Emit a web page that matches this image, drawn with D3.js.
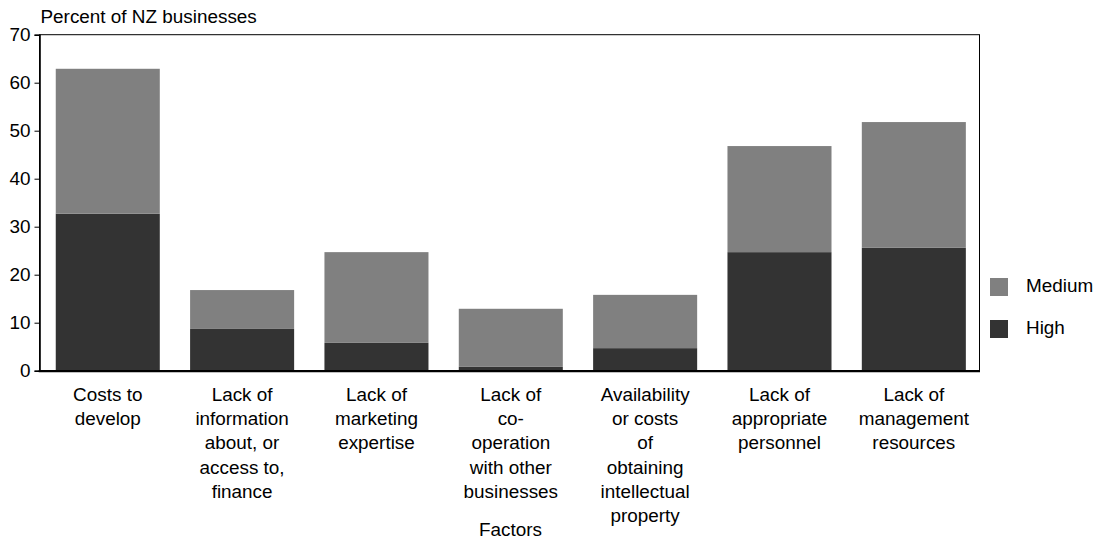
<!DOCTYPE html>
<html>
<head>
<meta charset="utf-8">
<script src="https://cdn.jsdelivr.net/npm/d3@7"></script>
<style>
  html, body { margin: 0; padding: 0; background: #fff; }
  text { font-family: Arial, "Liberation Sans", Helvetica, sans-serif; fill: #000; }
</style>
</head>
<body>
<svg id="chart" width="1097" height="541"></svg>
<script>
const categories = [
  "Costs to|develop",
  "Lack of|information|about, or|access to,|finance",
  "Lack of|marketing|expertise",
  "Lack of|co-|operation|with other|businesses",
  "Availability|or costs|of|obtaining|intellectual|property",
  "Lack of|appropriate|personnel",
  "Lack of|management|resources"
];
const high   = [32.7, 8.7, 5.8, 0.8, 4.7, 24.7, 25.6];
const medium = [30.2, 8.1, 18.9, 12.1, 11.1, 22.1, 26.2];
const yTicks = [0, 10, 20, 30, 40, 50, 60, 70];
const seriesNames = ["Medium", "High"];
const seriesColors = ["#808080", "#333333"];
const yTitle = "Percent of NZ businesses";
const xTitle = "Factors";

const FS = 18.9;
const svg = d3.select("#chart");
const pLeft = 39.5, pRight = 979.5, pTop = 34.7, pBottom = 370.7;

const x = d3.scaleBand().domain(categories).range([40.6, 981]).paddingInner(0.2256).paddingOuter(0.1128);
const y = d3.scaleLinear().domain([0, 70]).range([pBottom, pTop]);

const rows = categories.map((c, i) => ({cat: c, High: high[i], Medium: medium[i]}));
const stack = d3.stack().keys(["High", "Medium"])(rows);
const color = d3.scaleOrdinal().domain(seriesNames).range(seriesColors);

// frame
svg.append("rect").attr("x", pLeft).attr("y", pTop).attr("width", pRight - pLeft).attr("height", pBottom - pTop)
  .attr("fill", "none").attr("stroke", "#000").attr("stroke-width", 1);

svg.append("g").selectAll("g").data(stack).join("g")
  .attr("fill", d => color(d.key))
  .selectAll("rect").data(d => d).join("rect")
  .attr("x", d => x(d.data.cat))
  .attr("width", x.bandwidth())
  .attr("y", d => y(d[1]))
  .attr("height", d => y(d[0]) - y(d[1]));

// y axis
const yAxis = d3.axisLeft(y).tickValues(yTicks).tickSize(5).tickPadding(4).tickFormat(d3.format("d"));
const gy = svg.append("g").attr("transform", `translate(${pLeft},0)`).call(yAxis);
gy.select(".domain").attr("stroke-width", 1.6);
gy.selectAll("text").style("font-size", FS + "px").style("font-family", "Arial, 'Liberation Sans', sans-serif");

// x axis line
const xAxis = d3.axisBottom(x).tickSize(0).tickFormat("");
const gx = svg.append("g").attr("transform", `translate(0,${pBottom + 0.5})`).call(xAxis);
gx.select(".domain").attr("d", `M${pLeft - 0.8},0H${pRight + 0.5}`).attr("stroke-width", 2.2);

// x labels
const lab = svg.append("g");
categories.forEach(c => {
  const cx = x(c) + x.bandwidth() / 2;
  const t = lab.append("text").attr("text-anchor", "middle").style("font-size", FS + "px")
    .attr("x", cx).attr("y", pBottom + 30);
  c.split("|").forEach((ln, i) => {
    t.append("tspan").attr("x", cx).attr("dy", i === 0 ? 0 : 24.3).text(ln);
  });
});

// titles
svg.append("text").attr("x", 40.5).attr("y", 22.5).style("font-size", FS + "px").text(yTitle);
svg.append("text").attr("x", (pLeft + pRight) / 2 + 1).attr("y", 535.5).attr("text-anchor", "middle")
  .style("font-size", FS + "px").text(xTitle);

// legend
const leg = svg.append("g");
seriesNames.forEach((s, i) => {
  leg.append("rect").attr("x", 990).attr("y", 278 + i * 42).attr("width", 18).attr("height", 18).attr("fill", color(s));
  leg.append("text").attr("x", 1026).attr("y", 291.7 + i * 42).style("font-size", FS + "px").text(s);
});
</script>
</body>
</html>
